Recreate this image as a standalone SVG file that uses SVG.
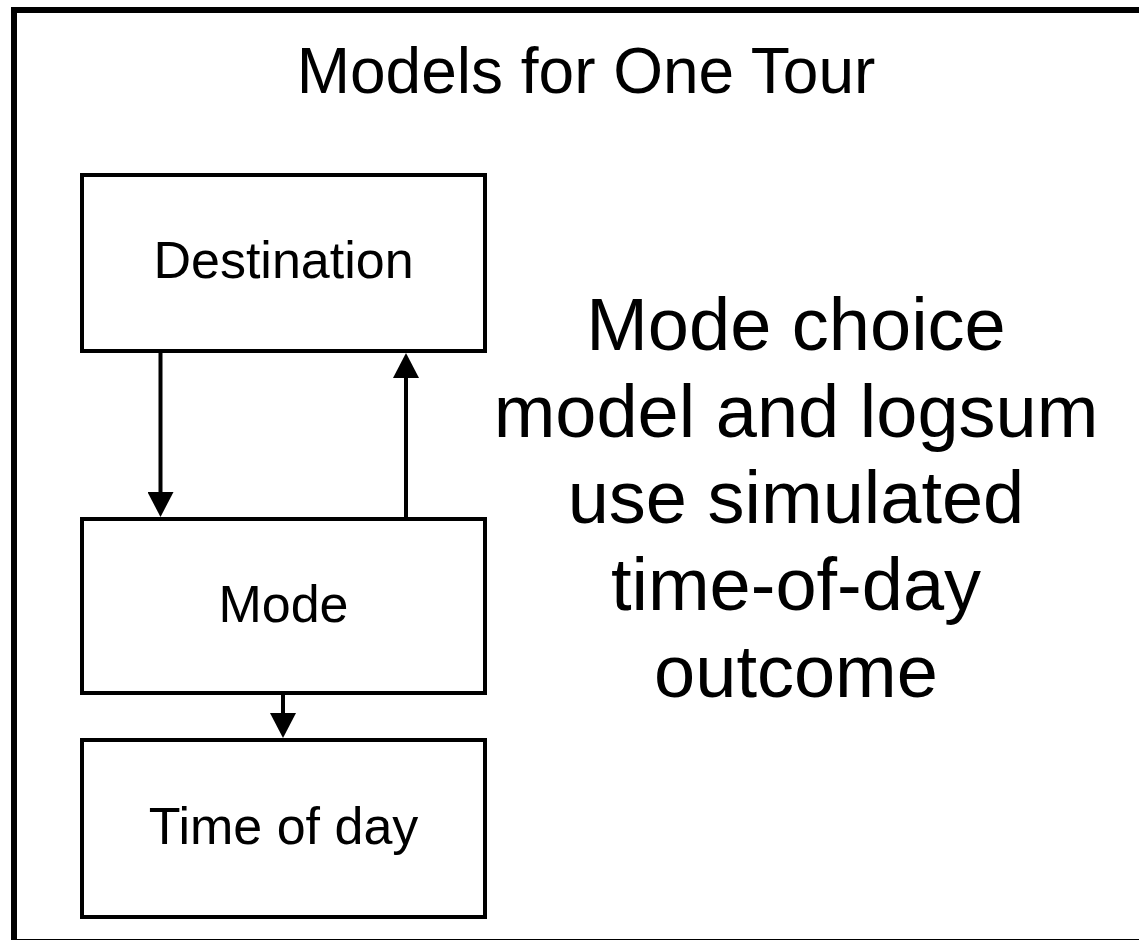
<svg xmlns="http://www.w3.org/2000/svg" width="1139" height="940" viewBox="0 0 1139 940">
<style>
.box{fill:#fff;stroke:#000;stroke-width:4}
.lbl{font-family:"Liberation Sans",Arial,sans-serif;font-size:52px;text-anchor:middle;fill:#000}
.big{font-family:"Liberation Sans",Arial,sans-serif;font-size:74px;text-anchor:middle;fill:#000}
.conn{stroke:#000;stroke-width:4;fill:none;marker-end:url(#ah)}
</style>
<defs>
<marker id="ah" markerUnits="userSpaceOnUse" viewBox="0 0 25 26" refX="13" refY="13" markerWidth="25" markerHeight="26" orient="auto">
<path d="M0,0 L25,13 L0,26 z" fill="#000"/>
</marker>
</defs>
<rect width="1139" height="940" fill="#fff"/>
<rect id="frame" x="14" y="10" width="1140" height="932" fill="none" stroke="#000" stroke-width="6"/>
<text x="586" y="93" font-family="'Liberation Sans',Arial,sans-serif" font-size="64" text-anchor="middle">Models for One Tour</text>
<g id="destination">
<rect class="box" x="82" y="175" width="403" height="176"/>
<text class="lbl" x="283.5" y="278">Destination</text>
</g>
<g id="mode">
<rect class="box" x="82" y="519" width="403" height="174"/>
<text class="lbl" x="283.5" y="622">Mode</text>
</g>
<g id="timeofday">
<rect class="box" x="82" y="740" width="403" height="177"/>
<text class="lbl" x="283.5" y="844">Time of day</text>
</g>
<g id="note">
<text class="big" x="796" y="350">Mode choice</text>
<text class="big" x="796" y="437">model and logsum</text>
<text class="big" x="796" y="523">use simulated</text>
<text class="big" x="796" y="610">time-of-day</text>
<text class="big" x="796" y="697">outcome</text>
</g>
<g id="connectors">
<line class="conn" x1="160.5" y1="353" x2="160.5" y2="505"/>
<line class="conn" x1="406" y1="517" x2="406" y2="365"/>
<line class="conn" x1="283" y1="695" x2="283" y2="726"/>
</g>
</svg>
